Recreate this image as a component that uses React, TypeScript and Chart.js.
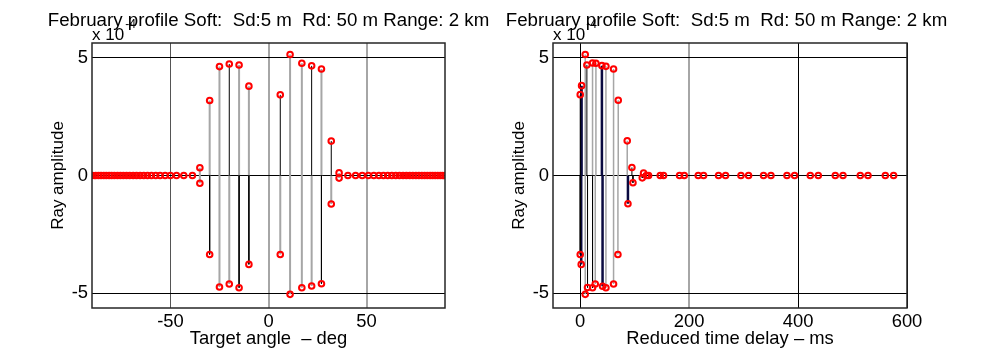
import React, { useEffect, useRef } from 'react';
import { Chart, registerables } from 'chart.js';

Chart.register(...registerables);

const TITLE = 'February profile Soft:  Sd:5 m  Rd: 50 m Range: 2 km';
const Y_LABEL = 'Ray amplitude';
const Y_EXPONENT = '-4';
const Y_TICKS = [-5, 0, 5];
const Y_RANGE = [-5.62, 5.62];

// ---- left panel: amplitude (x1e-4) versus target angle (deg)
const ANGLE_LABEL = 'Target angle  \u2013 deg';
const ANGLE_TICKS = [-50, 0, 50];
const ANGLE_RANGE = [-90, 90];
// rays drawn with dark stems
const angleSeriesAX = [-30, -20, -15, -10, 6, 22, 27, 32];
const angleSeriesAY = [-3.35, 4.73, -4.76, -3.77, 3.42, 4.65, -4.59, 1.46];
// rays drawn with light stems
const angleSeriesBX = [-35, -35, -30, -25, -25, -20, -15, -10, 6, 11, 11, 17, 17, 22, 27, 32, 36, 36];
const angleSeriesBY = [0.33, -0.33, 3.18, 4.62, -4.73, -4.6, 4.69, 3.79, -3.35, 5.13, -5.04, 4.76, -4.76, -4.69, 4.52, -1.21, 0.11, -0.11];
// rays whose amplitude reads 0
const angleZeroX = [
  -89.8, -88.1, -86.7, -85.4, -84.0, -82.7, -81.3, -80.0, -78.6, -77.0, -75.5, -74.0, -72.4, -70.8,
  -69.0, -67.3, -65.5, -63.6, -61.7, -59.7, -57.5, -55.3, -52.7, -50.0, -46.9, -43.2, -38.8,
  40.5, 44.4, 47.8, 50.9, 53.7, 56.3, 58.6, 60.8, 62.9, 64.9, 66.8, 68.6, 70.3, 72.0,
  73.6, 75.2, 76.7, 78.2, 79.6, 81.0, 82.4, 83.7, 85.0, 86.3, 87.6, 88.8, 90.0,
];

// ---- right panel: amplitude (x1e-4) versus reduced time delay (ms)
const DELAY_LABEL = 'Reduced time delay \u2013 ms';
const DELAY_TICKS = [0, 200, 400, 600];
const DELAY_RANGE = [-50, 600];
const delaySeriesAX = [0, 0, 12.2, 13.4, 22.6, 94.9, 96.8, 116.3, 113.9];
const delaySeriesAY = [3.43, -3.35, 4.69, -4.75, -4.76, 0.34, -0.31, 0.1, -0.1];
const delaySeriesBX = [9.2, 9.2, 22.6, 28.8, 27.6, 47.2, 47.2, 61.2, 61.2, 69.8, 69.2, 86.3];
const delaySeriesBY = [5.13, -5.04, 4.77, 4.76, -4.6, 4.63, -4.76, 4.52, -4.6, 3.19, -3.35, 1.47];
const delaySeriesCX = [2.5, 1.8, 39.8, 41.0, 87.6];
const delaySeriesCY = [3.81, -3.77, 4.66, -4.7, -1.2];
const delayZeroX = [
  121.5, 125.5, 146.9, 153.0, 182.4, 191.0, 216.7, 226.5, 254.0, 266.9, 295.1, 309.1,
  336.6, 350.2, 379.6, 393.6, 422.4, 437.1, 468.3, 482.5, 514.2, 528.4, 560.2, 575.4,
];

const FONT = '"Liberation Sans", Arial, sans-serif';

function stems(xs: number[], ys: number[]) {
  const pts: any[] = [];
  for (let i = 0; i < xs.length; i++) {
    pts.push({ x: xs[i], y: 0 }, { x: xs[i], y: ys[i] }, { x: xs[i], y: null });
  }
  return pts;
}

function marks(groups: [number[], number[]][], zeros: number[]) {
  const pts: any[] = [];
  groups.forEach(([xs, ys]) => xs.forEach((x, i) => pts.push({ x, y: ys[i] })));
  zeros.forEach((x) => pts.push({ x, y: 0 }));
  return pts;
}

const framePlugin = {
  id: 'frame',
  afterDraw(chart: any) {
    const { ctx, chartArea: a } = chart;
    ctx.save();
    ctx.strokeStyle = '#262626';
    ctx.lineWidth = 1.5;
    ctx.strokeRect(a.left, a.top, a.right - a.left, a.bottom - a.top);
    ctx.restore();
  },
};

// exponent label "x 10^-4" under the title, then the title itself over it
const headerPlugin = {
  id: 'header',
  beforeDraw(chart: any, _args: any, opts: any) {
    const { ctx, chartArea: a } = chart;
    ctx.save();
    ctx.fillStyle = '#000';
    ctx.textBaseline = 'alphabetic';
    ctx.textAlign = 'left';
    ctx.font = `17px ${FONT}`;
    const base = 'x 10';
    ctx.fillText(base, a.left, a.top - 3);
    const w = ctx.measureText(base).width;
    ctx.font = `12px ${FONT}`;
    ctx.fillText(opts.power, a.left + w + 1, a.top - 15);
    ctx.font = `18.7px ${FONT}`;
    ctx.textAlign = 'center';
    ctx.textBaseline = 'middle';
    ctx.fillText(opts.title, (a.left + a.right) / 2 + (opts.shift || 0), 20.5);
    ctx.restore();
  },
};

type PanelCfg = {
  stemSets: { xs: number[]; ys: number[]; color: string; width: number }[];
  markGroups: [number[], number[]][];
  zeros: number[];
  xRange: number[];
  xTicks: number[];
  xLabel: string;
  xGridColor: (v: number) => string;
  xGridWidth: (v: number) => number;
  yAxisWidth: number;
  yTitlePad: number;
  padRight: number;
  titleShift: number;
};

function makeConfig(p: PanelCfg): any {
  const datasets: any[] = [
    {
      data: marks(p.markGroups, p.zeros),
      showLine: false,
      pointRadius: 2.8,
      pointBorderWidth: 2,
      pointBorderColor: '#ff0000',
      pointBackgroundColor: 'rgba(255,255,255,0)',
      order: 0,
    },
    ...p.stemSets.map((s, i) => ({
      data: stems(s.xs, s.ys),
      borderColor: s.color,
      borderWidth: s.width,
      pointRadius: 0,
      spanGaps: false,
      fill: false,
      order: i + 1,
    })),
  ];
  return {
    type: 'line',
    data: { datasets },
    options: {
      animation: false,
      responsive: false,
      devicePixelRatio: 1,
      events: [],
      layout: { padding: { left: 0, right: p.padRight, top: 43, bottom: 0 } },
      plugins: {
        legend: { display: false },
        tooltip: { enabled: false },
        title: { display: false },
        header: { power: Y_EXPONENT, title: TITLE, shift: p.titleShift },
      },
      scales: {
        x: {
          type: 'linear',
          min: p.xRange[0],
          max: p.xRange[1],
          afterBuildTicks: (s: any) => {
            s.ticks = p.xTicks.map((v) => ({ value: v }));
          },
          afterFit: (s: any) => {
            s.height = 56;
          },
          border: { display: false },
          grid: {
            drawTicks: false,
            color: (c: any) => p.xGridColor(c.tick ? c.tick.value : 0),
            lineWidth: (c: any) => p.xGridWidth(c.tick ? c.tick.value : 0),
          },
          ticks: {
            color: '#000',
            font: { family: FONT, size: 18.4 },
            padding: 2.5,
            maxRotation: 0,
            autoSkip: false,
            callback: (v: any) => String(v),
          },
          title: {
            display: true,
            text: p.xLabel,
            color: '#000',
            font: { family: FONT, size: 18.4 },
            padding: { top: 0, bottom: 13.96 },
          },
        },
        y: {
          type: 'linear',
          min: Y_RANGE[0],
          max: Y_RANGE[1],
          afterBuildTicks: (s: any) => {
            s.ticks = Y_TICKS.map((v) => ({ value: v }));
          },
          afterFit: (s: any) => {
            s.width = p.yAxisWidth;
          },
          border: { display: false },
          grid: { drawTicks: false, color: '#000', lineWidth: 1 },
          ticks: {
            color: '#000',
            font: { family: FONT, size: 18.4 },
            padding: 4,
            autoSkip: false,
            callback: (v: any) => String(v),
          },
          title: {
            display: true,
            text: Y_LABEL,
            color: '#000',
            font: { family: FONT, size: 17 },
            padding: { top: p.yTitlePad, bottom: 0 },
          },
        },
      },
    },
    plugins: [framePlugin, headerPlugin],
  };
}

const GRAY = '#a6a6a6';

export default function App() {
  const leftRef = useRef<HTMLCanvasElement>(null);
  const rightRef = useRef<HTMLCanvasElement>(null);

  useEffect(() => {
    document.body.style.margin = '0';
    const left = new Chart(
      leftRef.current as HTMLCanvasElement,
      makeConfig({
        stemSets: [
          { xs: angleSeriesAX, ys: angleSeriesAY, color: '#000000', width: 1 },
          { xs: angleSeriesBX, ys: angleSeriesBY, color: GRAY, width: 2 },
        ],
        markGroups: [
          [angleSeriesAX, angleSeriesAY],
          [angleSeriesBX, angleSeriesBY],
        ],
        zeros: angleZeroX,
        xRange: ANGLE_RANGE,
        xTicks: ANGLE_TICKS,
        xLabel: ANGLE_LABEL,
        xGridColor: (v) => (v === -50 ? '#555555' : GRAY),
        xGridWidth: (v) => (v === -50 ? 1 : 2),
        yAxisWidth: 53,
        yTitlePad: 9.6,
        padRight: 53,
        titleShift: 0,
      })
    );
    const right = new Chart(
      rightRef.current as HTMLCanvasElement,
      makeConfig({
        stemSets: [
          { xs: delaySeriesAX, ys: delaySeriesAY, color: '#000000', width: 1 },
          { xs: delaySeriesBX, ys: delaySeriesBY, color: GRAY, width: 1.5 },
          { xs: delaySeriesCX, ys: delaySeriesCY, color: '#0a0a40', width: 2.5 },
        ],
        markGroups: [
          [delaySeriesAX, delaySeriesAY],
          [delaySeriesBX, delaySeriesBY],
          [delaySeriesCX, delaySeriesCY],
        ],
        zeros: delayZeroX,
        xRange: DELAY_RANGE,
        xTicks: DELAY_TICKS,
        xLabel: DELAY_LABEL,
        xGridColor: (v) => (v === 200 ? GRAY : '#000000'),
        xGridWidth: (v) => (v === 200 ? 2 : 1),
        yAxisWidth: 59,
        yTitlePad: 14.8,
        padRight: 51,
        titleShift: -3.5,
      })
    );
    return () => {
      left.destroy();
      right.destroy();
    };
  }, []);

  return (
    <div style={{ position: 'relative', width: 997, height: 364, background: '#fff' }}>
      <canvas ref={leftRef} width={459} height={364} style={{ position: 'absolute', left: 39, top: 0 }} />
      <canvas ref={rightRef} width={464} height={364} style={{ position: 'absolute', left: 494, top: 0 }} />
    </div>
  );
}
